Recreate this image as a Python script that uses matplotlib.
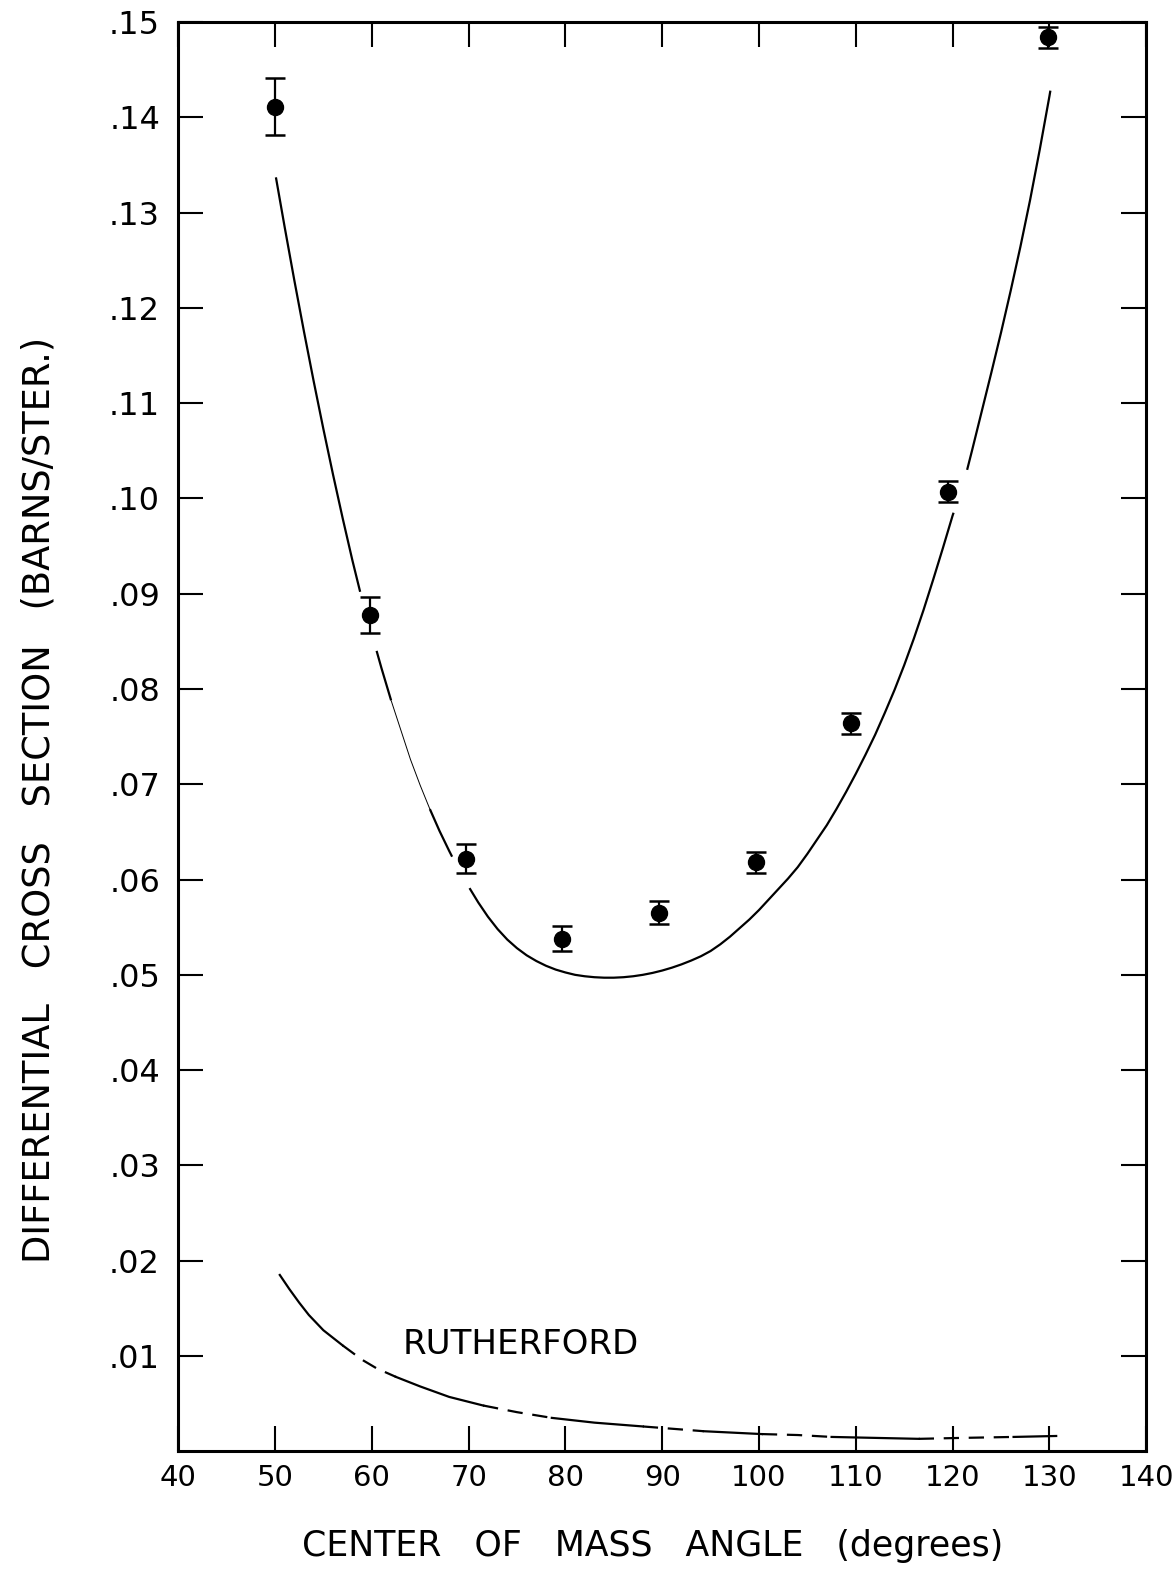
import matplotlib
matplotlib.use("Agg")
import matplotlib.pyplot as plt
import numpy as np

plt.rcParams["font.family"] = ["DejaVu Sans"]
plt.rcParams["lines.scale_dashes"] = False

# Measured cross sections
angle = [50.0, 59.8, 69.7, 79.6, 89.7, 99.7, 109.5, 119.5, 129.9]
sigma = [0.1411, 0.0878, 0.0622, 0.0538, 0.0565, 0.0618, 0.0764, 0.1007, 0.1484]
sigma_err = [0.0030, 0.0019, 0.0015, 0.0013, 0.0012, 0.0011, 0.0011, 0.0011, 0.0011]

# Fitted curve
fit_angle = [50.1, 51, 52, 53, 54, 55, 56, 57, 58, 58.8,
             60.5, 61, 62, 63, 64, 65, 66, 67, 68, 68.3,
             70.1, 71, 72, 73, 74, 75, 76, 77, 78, 79, 80, 81, 82, 83, 84, 85,
             86, 87, 88, 89, 90, 91, 92, 93, 94, 95, 96, 97, 98, 99, 100,
             101, 102, 103, 104, 105, 106, 107, 108, 109, 110, 111, 112, 113,
             114, 115, 116, 117, 118, 119, 120, 120.1,
             121.5, 122, 123, 124, 125, 126, 127, 128, 129, 130, 130.1]
fit_sigma = [0.1337, 0.1285, 0.1229, 0.1175, 0.1123, 0.1073, 0.1025, 0.0979, 0.0935, 0.0902,
             0.0840, 0.0822, 0.0788, 0.0757, 0.0726, 0.0699, 0.0674, 0.0651, 0.0630, 0.0624,
             0.0591, 0.0576, 0.0561, 0.0548, 0.0537, 0.0528, 0.05205, 0.05145, 0.05095,
             0.05055, 0.05025, 0.0500, 0.04985, 0.04975, 0.0497, 0.0497,
             0.04975, 0.04985, 0.0500, 0.0502, 0.05045, 0.05075, 0.0511, 0.0515, 0.05195,
             0.0525, 0.0532, 0.0540, 0.0549, 0.0558, 0.0568,
             0.0579, 0.0590, 0.0601, 0.0613, 0.0627, 0.0642, 0.0657, 0.0674, 0.0692,
             0.0711, 0.0731, 0.0752, 0.0775,
             0.0799, 0.0825, 0.0853, 0.0883, 0.0915, 0.0948, 0.0982, 0.0985,
             0.1030, 0.1050, 0.1091, 0.1132, 0.1174, 0.1218, 0.1264, 0.1313, 0.1366,
             0.1422, 0.1428]
# pieces of the fit drawn separately (gaps around error bars), with line width
fit_pieces = [(50.0, 59.0, 1.6), (60.0, 62.0, 1.6), (62.0, 66.0, 0.7),
              (66.0, 69.0, 1.6), (70.0, 120.5, 1.6), (121.0, 131.0, 1.6)]

# Rutherford cross section
ruth_angle = [50.5, 51.5, 52.5, 53.5, 55, 57, 59, 60.5, 62.5, 65, 68, 71.5, 75,
              78.6, 83, 88, 94.3, 100.3, 104, 107.5, 112, 116.5, 121, 126.3, 130.7]
ruth_sigma = [0.0185, 0.0170, 0.0156, 0.0143, 0.0127, 0.0111, 0.0096, 0.0087,
              0.0078, 0.0068, 0.0057, 0.0048, 0.0041, 0.0035, 0.0030, 0.0026,
              0.0021, 0.0018, 0.0017, 0.0015, 0.0014, 0.0013, 0.0014, 0.0015, 0.0016]
# alternating solid / dashed stretches of the Rutherford line
ruth_pieces = [(50.5, 57.0, "-"), (57.0, 62.5, "--"), (62.5, 71.5, "-"),
               (71.5, 78.6, "--"), (78.6, 88.0, "-"), (88.0, 94.3, "--"),
               (94.3, 100.3, "-"), (100.3, 107.5, "--"), (107.5, 116.5, "-"),
               (116.5, 126.3, "--"), (126.3, 130.7, "-")]

xticks = [40, 50, 60, 70, 80, 90, 100, 110, 120, 130, 140]
yticks = [0.01, 0.02, 0.03, 0.04, 0.05, 0.06, 0.07, 0.08, 0.09, 0.10,
          0.11, 0.12, 0.13, 0.14, 0.15]
ytick_labels = [".01", ".02", ".03", ".04", ".05", ".06", ".07", ".08", ".09", ".10",
                ".11", ".12", ".13", ".14", ".15"]

fig = plt.figure(figsize=(11.72, 15.74), dpi=100, facecolor="white")
ax = fig.add_axes([0.152, 0.078, 0.826, 0.908])
ax.set_xlim(40, 140)
ax.set_ylim(0, 0.15)

for s in ax.spines.values():
    s.set_linewidth(2.2)

ax.set_xticks(xticks)
ax.set_xticklabels([str(t) for t in xticks])
ax.set_yticks(yticks)
ax.set_yticklabels(ytick_labels)
ax.tick_params(direction="in", length=18, width=1.5, top=True, right=True,
               colors="black")
ax.tick_params(axis="x", pad=9, labelsize=21)
ax.tick_params(axis="y", pad=13, labelsize=23)

# Fit curve, split into pieces
fx = np.array(fit_angle)
fy = np.array(fit_sigma)
for lo, hi, lw in fit_pieces:
    m = (fx >= lo) & (fx <= hi)
    ax.plot(fx[m], fy[m], color="black", lw=lw, solid_capstyle="butt")

# Rutherford curve, solid and dashed stretches
rx = np.array(ruth_angle)
ry = np.array(ruth_sigma)
for lo, hi, ls in ruth_pieces:
    m = (rx >= lo) & (rx <= hi)
    if ls == "-":
        ax.plot(rx[m], ry[m], color="black", lw=1.6)
    else:
        ax.plot(rx[m], ry[m], color="black", lw=1.6, dashes=(11, 7))

ax.errorbar(angle, sigma, yerr=sigma_err, fmt="o", color="black", ms=11.5,
            elinewidth=1.6, capsize=7.5, capthick=1.8, zorder=5)

ax.text(63.2, 0.0112, "RUTHERFORD", fontsize=24.5, ha="left", va="center")

fig.text(0.557, 0.018, "CENTER   OF   MASS   ANGLE   (degrees)", fontsize=25,
         ha="center", va="center")
fig.text(0.033, 0.492, "DIFFERENTIAL   CROSS   SECTION   (BARNS/STER.)",
         fontsize=26.5, ha="center", va="center", rotation=90)

fig.savefig("out.png", dpi=100, facecolor="white")
